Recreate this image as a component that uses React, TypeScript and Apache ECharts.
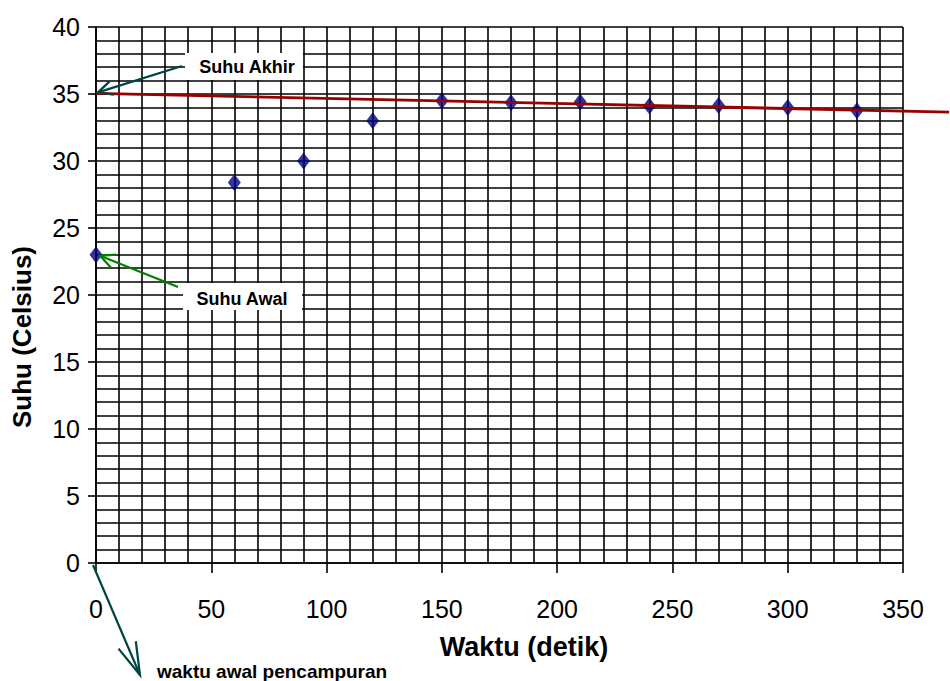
import React, { useEffect, useRef } from "react";
import * as echarts from "echarts";

const times = [0, 60, 90, 120, 150, 180, 210, 240, 270, 300, 330];
const temps = [23.0, 28.4, 30.0, 33.0, 34.5, 34.35, 34.4, 34.1, 34.15, 34.0, 33.75];
const trendX = [0, 370];
const trendY = [35.05, 33.65];
const xTicks = [0, 50, 100, 150, 200, 250, 300, 350];
const yTicks = [0, 5, 10, 15, 20, 25, 30, 35, 40];

const FONT = '"Liberation Sans", Arial, sans-serif';

function arrow(from: number[], to: number[], color: string, len = 16, spread = 0.45) {
  const a = Math.atan2(to[1] - from[1], to[0] - from[0]);
  const p1 = [to[0] - len * Math.cos(a - spread), to[1] - len * Math.sin(a - spread)];
  const p2 = [to[0] - len * Math.cos(a + spread), to[1] - len * Math.sin(a + spread)];
  return [
    {
      type: "line",
      z: 20,
      shape: { x1: from[0], y1: from[1], x2: to[0], y2: to[1] },
      style: { stroke: color, lineWidth: 2.2 },
    },
    {
      type: "polyline",
      z: 20,
      shape: { points: [p1, to, p2] },
      style: { stroke: color, lineWidth: 2.2, fill: null },
    },
  ];
}

export default function App() {
  const ref = useRef<HTMLDivElement>(null);
  useEffect(() => {
    if (!ref.current) return;
    const chart = echarts.init(ref.current, null, { renderer: "svg" });
    const gridLine = { show: true, lineStyle: { color: "#000", width: 1.6 } };
    chart.setOption({
      animation: false,
      backgroundColor: "#fff",
      grid: { left: 96, right: 47, top: 27, bottom: 118, containLabel: false },
      xAxis: {
        type: "value",
        min: xTicks[0],
        max: xTicks[xTicks.length - 1],
        interval: 50,
        axisLine: { show: true, onZero: false, lineStyle: { color: "#000", width: 1.6 } },
        axisTick: { show: true, length: 10, lineStyle: { color: "#000", width: 1.6 } },
        axisLabel: { fontSize: 25, color: "#000", fontFamily: FONT, margin: 33 },
        splitLine: gridLine,
        minorTick: { show: false, splitNumber: 5 },
        minorSplitLine: gridLine,
      },
      yAxis: {
        type: "value",
        min: yTicks[0],
        max: yTicks[yTicks.length - 1],
        interval: 5,
        axisLine: { show: true, onZero: false, lineStyle: { color: "#000", width: 1.6 } },
        axisTick: { show: true, length: 8, lineStyle: { color: "#000", width: 1.6 } },
        axisLabel: { fontSize: 25, color: "#000", fontFamily: FONT, margin: 16 },
        splitLine: gridLine,
        minorTick: { show: false, splitNumber: 5 },
        minorSplitLine: gridLine,
      },
      series: [
        {
          type: "scatter",
          data: times.map((t, i) => [t, temps[i]]),
          symbol: "diamond",
          symbolSize: [13, 17],
          itemStyle: { color: "#000080" },
          z: 3,
        },
      ],
    });

    const trendPts = trendX.map(
      (x, i) => chart.convertToPixel({ gridIndex: 0 }, [x, trendY[i]]) as number[]
    );
    const tipAkhir = trendPts[0];
    const tipAwal = chart.convertToPixel({ gridIndex: 0 }, [times[0], temps[0]]) as number[];
    const origin = chart.convertToPixel({ gridIndex: 0 }, [0, 0]) as number[];

    const labelStyle = (text: string, size: number) => ({
      text,
      fill: "#000",
      fontSize: size,
      fontWeight: "bold",
      fontFamily: FONT,
      align: "center",
      verticalAlign: "middle",
    });

    chart.setOption({
      graphic: [
        {
          type: "polyline",
          z: 15,
          shape: { points: trendPts },
          style: { stroke: "#990000", lineWidth: 2.8, fill: null },
        },
        { type: "rect", z: 10, shape: { x: 185, y: 53, width: 118, height: 27 }, style: { fill: "#fff" } },
        { type: "text", z: 11, x: 247, y: 67, style: labelStyle("Suhu Akhir", 18) },
        ...arrow([182, 66], [tipAkhir[0] + 2, tipAkhir[1] - 1], "#004444"),
        { type: "rect", z: 10, shape: { x: 183, y: 283, width: 119, height: 27 }, style: { fill: "#fff" } },
        { type: "text", z: 11, x: 242, y: 299, style: labelStyle("Suhu Awal", 18) },
        ...arrow([178, 287], [tipAwal[0] + 4, tipAwal[1] + 1], "#008000"),
        ...arrow([origin[0] - 3, origin[1] + 2], [140, 675], "#004444", 34, 0.28),
        {
          type: "text",
          z: 11,
          x: 157,
          y: 671,
          style: { ...labelStyle("waktu awal pencampuran", 19), align: "left" },
        },
        { type: "text", z: 11, x: 524, y: 647, style: labelStyle("Waktu (detik)", 27) },
        {
          type: "text",
          z: 11,
          x: 22,
          y: 337,
          rotation: Math.PI / 2,
          style: labelStyle("Suhu (Celsius)", 26),
        },
      ],
    });
    return () => chart.dispose();
  }, []);
  return (
    <div
      ref={ref}
      style={{ position: "fixed", left: 0, top: 0, width: 950, height: 681, background: "#fff" }}
    />
  );
}
